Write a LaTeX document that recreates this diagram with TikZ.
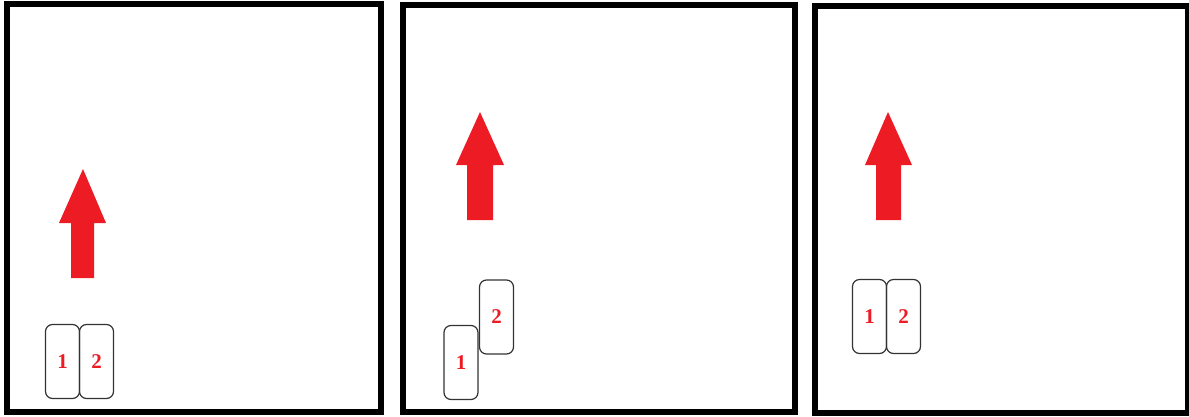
\documentclass[tikz,border=0pt]{standalone}
\usepackage{fontspec}
\setmainfont{Liberation Serif}
\definecolor{paintred}{HTML}{ED1C24}
\definecolor{boxline}{HTML}{333333}
\tikzset{
  panel/.style={draw=black, line width=6pt},
  carbox/.style={draw=boxline, line width=1.2pt, rounded corners=7pt, minimum width=34pt, minimum height=74pt, inner sep=0pt, text=paintred, font=\bfseries\fontsize{21}{21}\selectfont},
  bigarrow/.style={fill=paintred, draw=none}
}
\begin{document}
\begin{tikzpicture}[x=1pt,y=-1pt]
\useasboundingbox (0,0) rectangle (1189,416);
% panels
\draw[panel] (7,4) rectangle (381,411.5);
\draw[panel] (403,5) rectangle (795,411.5);
\draw[panel] (814.5,5.5) rectangle (1188,413);
% arrows
\fill[bigarrow] (83,169) -- (106,223) -- (94,223) -- (94,278) -- (71,278) -- (71,223) -- (59,223) -- cycle;
\fill[bigarrow] (480,112) -- (504,165) -- (493,165) -- (493,220) -- (467,220) -- (467,165) -- (456,165) -- cycle;
\fill[bigarrow] (888,112) -- (912,165) -- (901,165) -- (901,220) -- (876,220) -- (876,165) -- (865,165) -- cycle;
% panel 1 boxes
\node[carbox] (a1) at (62.5,361.5) {1};
\node[carbox] (a2) at (96.5,361.5) {2};
% panel 2 boxes
\node[carbox] (b1) at (461,362.5) {1};
\node[carbox] (b2) at (496.5,317) {2};
% panel 3 boxes
\node[carbox] (c1) at (869.5,316.5) {1};
\node[carbox] (c2) at (903.5,316.5) {2};
\end{tikzpicture}
\end{document}
